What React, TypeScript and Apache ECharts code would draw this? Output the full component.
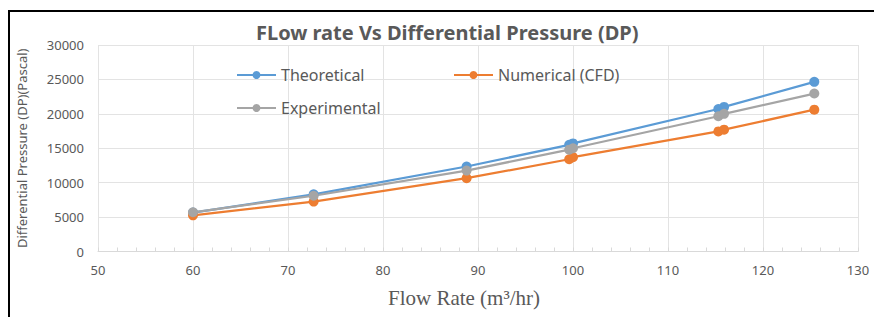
import React, { useEffect, useRef } from "react";
import * as echarts from "echarts";

const flowRates = [60, 72.7, 88.8, 99.6, 100, 115.3, 115.9, 125.4];
const theoretical = [5650, 8300, 12350, 15500, 15700, 20700, 21000, 24650];
const numerical = [5250, 7250, 10650, 13400, 13700, 17450, 17700, 20600];
const experimental = [5700, 8100, 11750, 14800, 15000, 19650, 20000, 22950];

const seriesNames = ["Theoretical", "Numerical (CFD)", "Experimental"];
const seriesColors = ["#5b9bd5", "#ed7d31", "#a5a5a5"];

const pair = (ys: number[]) => flowRates.map((x, i) => [x, ys[i]]);

export default function App() {
  const ref = useRef<HTMLDivElement>(null);
  useEffect(() => {
    const chart = echarts.init(ref.current!, null, { renderer: "svg" });
    const textColor = "#595959";
    const legendBase = {
      orient: "horizontal" as const,
      itemWidth: 39,
      itemHeight: 10,
      itemGap: 5,
      padding: 0,
      textStyle: { color: textColor, fontSize: 16, fontFamily: "Noto Sans" },
      selectedMode: false,
    };
    const datas = [theoretical, numerical, experimental];
    chart.setOption({
      animation: false,
      backgroundColor: "#ffffff",
      title: {
        text: "FLow rate Vs Differential Pressure (DP)",
        left: 256,
        top: 22,
        padding: 0,
        textStyle: { color: textColor, fontSize: 20, fontWeight: "bold", fontFamily: "Noto Sans" },
      },
      legend: [
        { ...legendBase, data: [seriesNames[0]], left: 236, top: 67 },
        { ...legendBase, data: [seriesNames[1]], left: 453, top: 67 },
        { ...legendBase, data: [seriesNames[2]], left: 236, top: 100 },
      ],
      grid: { left: 98, right: 16, top: 45, bottom: 65.5, containLabel: false },
      xAxis: {
        type: "value",
        min: 50,
        max: 130,
        interval: 10,
        name: "Flow Rate (m³/hr)",
        nameLocation: "middle",
        nameGap: 36,
        nameTextStyle: {
          color: textColor,
          fontSize: 21,
          fontFamily: "Liberation Serif",
          padding: [0, 28, 0, 0],
        },
        axisLine: { show: true, lineStyle: { color: "#d9d9d9", width: 1 } },
        axisTick: { show: true, inside: true, length: 4, lineStyle: { color: "#d9d9d9" } },
        minorTick: { show: true, splitNumber: 5, length: 4, lineStyle: { color: "#d9d9d9" } },
        splitLine: { show: true, lineStyle: { color: "#e3e3e3", width: 1 } },
        axisLabel: { color: textColor, fontSize: 13, margin: 12, fontFamily: "Noto Sans" },
      },
      yAxis: {
        type: "value",
        min: 0,
        max: 30000,
        interval: 5000,
        name: "Differential Pressure (DP)(Pascal)",
        nameLocation: "middle",
        nameRotate: 90,
        nameGap: 70,
        nameTextStyle: { color: textColor, fontSize: 13, fontFamily: "Noto Sans" },
        axisLine: { show: false },
        axisTick: { show: false },
        splitLine: { show: true, lineStyle: { color: "#e3e3e3", width: 1 } },
        axisLabel: {
          color: textColor,
          fontSize: 13,
          margin: 14,
          fontFamily: "Noto Sans",
          formatter: (v: number) => String(v),
        },
      },
      graphic: [
        {
          type: "polyline",
          shape: { points: [[9, 317], [9, 11], [874, 11]] },
          style: { stroke: "#000", lineWidth: 2, fill: "none" },
          silent: true,
        },
      ],
      series: seriesNames.map((name, i) => ({
        name,
        type: "line",
        data: pair(datas[i]),
        symbol: "circle",
        symbolSize: 10,
        color: seriesColors[i],
        lineStyle: { width: 2.25, color: seriesColors[i] },
        itemStyle: { color: seriesColors[i] },
      })),
    });
    return () => chart.dispose();
  }, []);
  return (
    <div
      ref={ref}
      style={{ position: "absolute", left: 0, top: 0, width: 874, height: 317 }}
    />
  );
}
